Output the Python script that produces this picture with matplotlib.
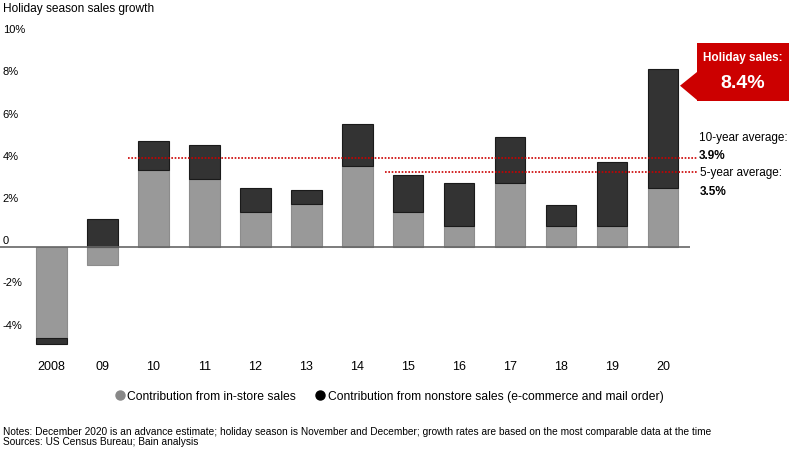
import matplotlib.pyplot as plt
from matplotlib.lines import Line2D
from matplotlib.patches import Rectangle, Polygon
import numpy as np

plt.rcParams['font.family'] = ['Liberation Sans', 'DejaVu Sans']

years = ["2008", "09", "10", "11", "12", "13", "14", "15", "16", "17", "18", "19", "20"]
in_store = [-4.31, -0.88, 3.62, 3.19, 1.63, 2.01, 3.81, 1.63, 1.00, 3.03, 1.00, 1.00, 2.80]
nonstore = [-0.28, 1.31, 1.37, 1.62, 1.17, 0.69, 2.00, 1.78, 2.00, 2.18, 0.99, 3.01, 5.60]
yticks = [-4, -2, 0, 2, 4, 6, 8, 10]
ytick_labels = ["-4%", "-2%", "0", "2%", "4%", "6%", "8%", "10%"]
# dotted average lines as drawn in the source, plus their labels
avg_levels = [4.2, 3.55]
avg_starts = [1.5, 6.54]
avg_labels = ["10-year average:", "5-year average:"]
avg_values = ["3.9%", "3.5%"]
headline = "8.4%"

GRAY = "#999999"
DARK = "#333333"
RED = "#cc0000"

fig = plt.figure(figsize=(8, 4.53), dpi=100)
ax = fig.add_axes([0.0, 0.2225, 0.8625, 0.722])

x = np.arange(len(years))
w = 0.6
ax.bar(x, in_store, w, color=GRAY, edgecolor="#8c8c8c", linewidth=0.8, zorder=2)
# nonstore stacks on in-store when both have the same sign, else starts at 0
base = [s if (s > 0) == (n > 0) else 0 for s, n in zip(in_store, nonstore)]
ax.bar(x, nonstore, w, bottom=base, color=DARK, edgecolor="#1a1a1a", linewidth=0.8, zorder=2)

ax.set_xlim(-1.01, 12.53)
ax.set_ylim(-5.0, 10.5)
ax.axhline(0, color="#666666", lw=1.2, zorder=3)
for s in ax.spines.values():
    s.set_visible(False)
ax.set_yticks([])
ax.set_xticks(x, years, fontsize=9)
ax.tick_params(axis="x", length=0, pad=6)

for v, lab in zip(yticks, ytick_labels):
    ax.text(0.004, v + 0.02, lab, transform=ax.get_yaxis_transform(), fontsize=8,
            ha="left", va="bottom")

for lvl, st in zip(avg_levels, avg_starts):
    ax.plot([st, 12.66], [lvl, lvl], color=RED, lw=1.2, ls=(0, (1, 1)),
            clip_on=False, zorder=4)

fig.text(0.874, 1 - 137.7 / 453, avg_labels[0], fontsize=8.5, va="center", ha="left")
fig.text(0.873, 1 - 155.7 / 453, avg_values[0], fontsize=8.5, fontweight="bold", va="center")
fig.text(0.875, 1 - 173 / 453, avg_labels[1], fontsize=8.5, va="center", ha="left")
fig.text(0.875, 1 - 191.7 / 453, avg_values[1], fontsize=8.5, fontweight="bold", va="center")

# red callout
fig.patches.append(Rectangle((696.7 / 800, 1 - 100.7 / 453), (789.3 - 696.7) / 800, 58 / 453,
                             transform=fig.transFigure, facecolor=RED, edgecolor="none"))
fig.patches.append(Polygon([[697 / 800, 1 - 72 / 453], [680 / 800, 1 - 85.7 / 453],
                            [697 / 800, 1 - 100 / 453]], closed=True,
                           transform=fig.transFigure, facecolor=RED, edgecolor="none"))
fig.text(743 / 800, 1 - 58.3 / 453, "Holiday sales:", color="white", fontsize=8.5,
         fontweight="bold", ha="center", va="center")
fig.text(743 / 800, 1 - 83.3 / 453, headline, color="white", fontsize=14,
         fontweight="bold", ha="center", va="center")

fig.text(0.004, 1 - 9 / 453, "Holiday season sales growth", fontsize=8.6, va="center")

handles = [Line2D([], [], marker="o", ls="none", color="#888888", markersize=6.5),
           Line2D([], [], marker="o", ls="none", color="black", markersize=6.5)]
fig.legend(handles, ["Contribution from in-store sales",
                     "Contribution from nonstore sales (e-commerce and mail order)"],
           loc="center", bbox_to_anchor=(0.486, 1 - 396.7 / 453), ncol=2, frameon=False,
           fontsize=8.7, handletextpad=0.1, columnspacing=1.5, handlelength=1)

fig.text(0.004, 1 - 437 / 453,
         "Notes: December 2020 is an advance estimate; holiday season is November and December; "
         "growth rates are based on the most comparable data at the time\n"
         "Sources: US Census Bureau; Bain analysis",
         fontsize=7.25, va="center", linespacing=1.0)

fig.savefig("out.png", dpi=100)
